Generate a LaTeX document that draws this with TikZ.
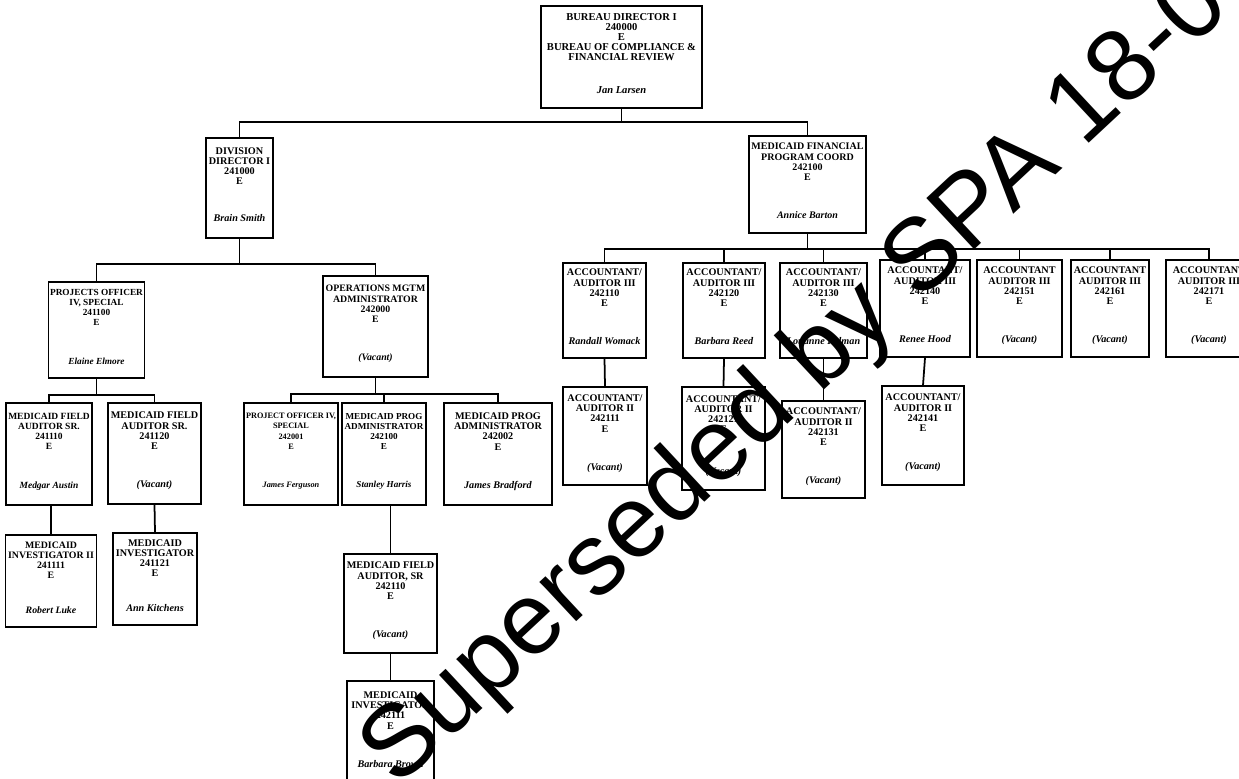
\documentclass[tikz,border=0pt]{standalone}
\usepackage{fontspec}
\setmainfont{Liberation Serif}
\newfontfamily\stampfont{Liberation Sans}

\newcommand\pf[1]{\fontsize{#1}{5.8}\selectfont\bfseries}
\newcommand\nm[1]{\textit{#1}\rule[-4pt]{0pt}{4pt}}

\tikzset{
  post/.style={draw, line width=.9pt, fill=white, align=center, inner sep=1pt, font=\pf{5.8}},
  wh/.style 2 args={minimum width=#1*0.02cm, minimum height=#2*0.02cm}
}

\begin{document}
\begin{tikzpicture}[x=0.02cm, y=-0.02cm]

        \useasboundingbox (0,0) rectangle (1239,778);
        \clip (0,0) rectangle (1239,778);

        \begin{scope}[every node/.style={post}]
          \node[wh={161}{102}, font=\pf{6}] (bureau) at (621.5,57)  {BUREAU DIRECTOR I\\240000\\E\\BUREAU OF COMPLIANCE \&\\FINANCIAL REVIEW\\[13pt]\nm{Jan Larsen}};
          \node[wh={67}{100}]               (div)    at (239.5,188) {DIVISION\\DIRECTOR I\\241000\\E\\[15pt]\nm{Brain Smith}};
          \node[wh={117}{97}, font=\pf{5.7}] (mfc)   at (807.5,184.5) {MEDICAID FINANCIAL\\PROGRAM COORD\\242100\\E\\[16pt]\nm{Annice Barton}};

          \node[wh={95}{96}, font=\pf{5.3}] (proj)   at (96.5,330)  {PROJECTS OFFICER\\IV, SPECIAL\\241100\\E\\[16pt]\nm{Elaine Elmore}};
          \node[wh={86}{102}, font=\pf{5.4}] (fld1)  at (49,454)    {MEDICAID FIELD\\AUDITOR SR.\\241110\\E\\[16pt]\nm{Medgar Austin}};
          \node[wh={93}{101}]               (fld2)   at (154.5,453.5) {MEDICAID FIELD\\AUDITOR SR.\\241120\\E\\[16pt]\nm{(Vacant)}};
          \node[wh={91}{92}, font=\pf{5.6}] (inv1)   at (51,581)    {MEDICAID\\INVESTIGATOR II\\241111\\E\\[14pt]\nm{Robert Luke}};
          \node[wh={84}{92}]                (inv2)   at (155,579)   {MEDICAID\\INVESTIGATOR\\241121\\E\\[14pt]\nm{Ann Kitchens}};

          \node[wh={105}{101}, font=\pf{5.6}] (ops)  at (375.5,326.5) {OPERATIONS MGTM\\ADMINISTRATOR\\242000\\E\\[16pt]\nm{(Vacant)}};
          \node[wh={94}{102}, font=\pf{4.7}] (po4)   at (291,454)   {PROJECT OFFICER IV,\\SPECIAL\\242001\\E\\[16pt]\nm{James Ferguson}};
          \node[wh={84}{102}, font=\pf{5.2}] (mpa1)  at (384,454)   {MEDICAID PROG\\ADMINISTRATOR\\242100\\E\\[16pt]\nm{Stanley Harris}};
          \node[wh={108}{102}]              (mpa2)   at (498,454)   {MEDICAID PROG\\ADMINISTRATOR\\242002\\E\\[16pt]\nm{James Bradford}};
          \node[wh={93}{99}]                (fsr)    at (390.5,603.5) {MEDICAID FIELD\\AUDITOR, SR\\242110\\E\\[16pt]\nm{(Vacant)}};
          \node[wh={87}{104}]               (inv3)   at (390.5,733) {MEDICAID\\INVESTIGATOR\\242111\\E\\[16pt]\nm{Barbara Brown}};

          \node[wh={83}{95}] (acc1) at (604.5,310.5) {ACCOUNTANT/\\AUDITOR III\\242110\\E\\[16pt]\nm{Randall Womack}};
          \node[wh={82}{95}] (acc2) at (724,310.5)   {ACCOUNTANT/\\AUDITOR III\\242120\\E\\[16pt]\nm{Barbara Reed}};
          \node[wh={87}{95}] (acc3) at (823.5,310.5) {ACCOUNTANT/\\AUDITOR III\\242130\\E\\[16pt]\nm{Louanne Kelman}};
          \node[wh={90}{97}] (acc4) at (925,308.5)   {ACCOUNTANT/\\AUDITOR III\\242140\\E\\[16pt]\nm{Renee Hood}};
          \node[wh={85}{97}] (acc5) at (1019.5,308.5) {ACCOUNTANT\\AUDITOR III\\242151\\E\\[16pt]\nm{(Vacant)}};
          \node[wh={78}{97}] (acc6) at (1110,308.5)  {ACCOUNTANT\\AUDITOR III\\242161\\E\\[16pt]\nm{(Vacant)}};
          \node[wh={86}{97}] (acc7) at (1209,308.5)  {ACCOUNTANT\\AUDITOR III\\242171\\E\\[16pt]\nm{(Vacant)}};

          \node[wh={84}{98}]  (acc1b) at (605,436)     {ACCOUNTANT/\\AUDITOR II\\242111\\E\\[16pt]\nm{(Vacant)}};
          \node[wh={83}{103}] (acc2b) at (723.5,438.5) {ACCOUNTANT/\\AUDITOR II\\242121\\E\\[18pt]\nm{(Vacant)}};
          \node[wh={83}{97}]  (acc3b) at (823.5,449.5) {ACCOUNTANT/\\AUDITOR II\\242131\\E\\[16pt]\nm{(Vacant)}};
          \node[wh={82}{99}]  (acc4b) at (923,435.5)   {ACCOUNTANT/\\AUDITOR II\\242141\\E\\[16pt]\nm{(Vacant)}};
        \end{scope}

        \begin{scope}[line width=1pt]
          \draw (bureau.south) -- ++(0,13) -| (div.north);
          \draw (bureau.south) -- ++(0,13) -| (mfc.north);

          \draw (div.south) -- ++(0,25) -| (proj.north);
          \draw (div.south) -- ++(0,25) -| (ops.north);
          \draw (proj.south) -- ++(0,16) -| (fld1.north);
          \draw (proj.south) -- ++(0,16) -| (fld2.north);
          \draw (inv1.north |- fld1.south) -- (inv1.north);
          \draw (fld2.south) -- (inv2.north);

          \draw (ops.south) -- ++(0,16) -| (po4.north);
          \draw (ops.south) -- ++(0,16) -| (mpa1.north);
          \draw (ops.south) -- ++(0,16) -| (mpa2.north);
          \draw (fsr.north |- mpa1.south) -- (fsr.north);
          \draw (fsr.south) -- (inv3.north);

          \draw (mfc.south) -- ++(0,15) -| (acc1.north);
          \draw (mfc.south) -- ++(0,15) -| (acc2.north);
          \draw (mfc.south) -- ++(0,15) -| (acc3.north);
          \draw (mfc.south) -- ++(0,15) -| (acc4.north);
          \draw (mfc.south) -- ++(0,15) -| (acc5.north);
          \draw (mfc.south) -- ++(0,15) -| (acc6.north);
          \draw (mfc.south) -- ++(0,15) -| (acc7.north);
          \draw (acc1.south) -- (acc1b.north);
          \draw (acc2.south) -- (acc2b.north);
          \draw (acc3.south) -- (acc3b.north);
          \draw (acc4.south) -- (acc4b.north);
        \end{scope}

        % stamp across the chart
        \node[rotate=43, font=\stampfont\fontsize{58}{58}\selectfont] (stamp) at (797,380) {Superseded by SPA 18-0};

\end{tikzpicture}
\end{document}
